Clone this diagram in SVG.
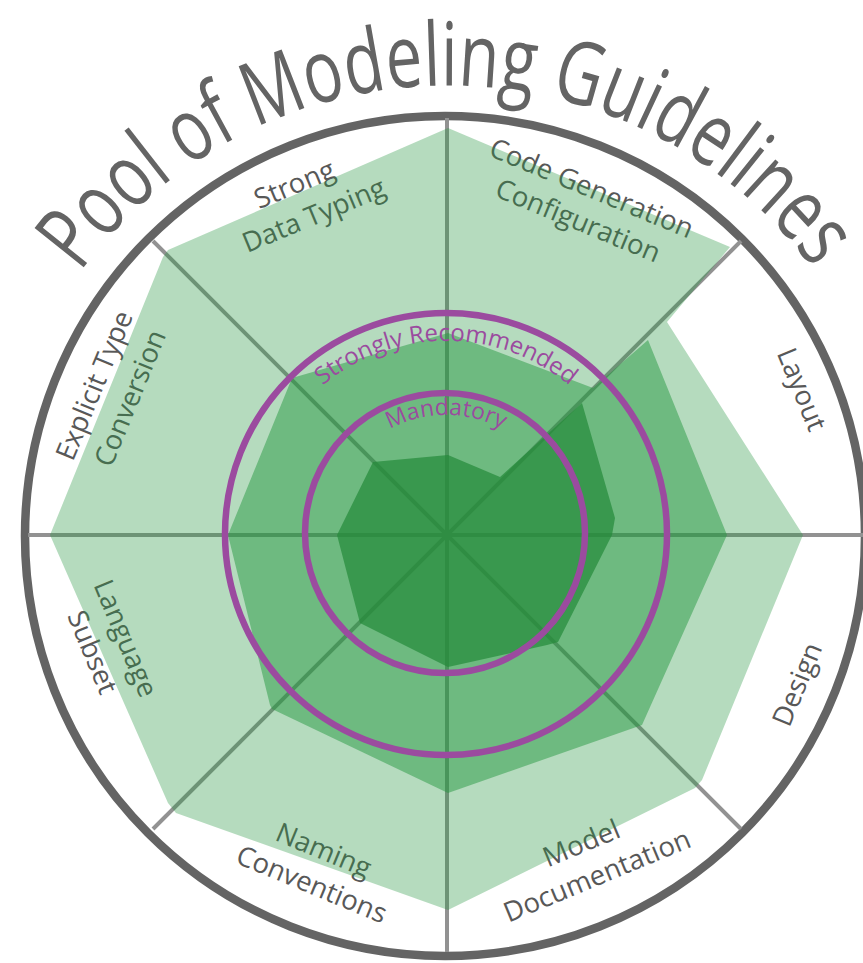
<svg xmlns="http://www.w3.org/2000/svg" width="863" height="963" viewBox="0 0 863 963">
<style>
.lbl{font-family:"Open Sans","Noto Sans","DejaVu Sans",sans-serif;font-size:27.5px;fill:#585858;text-anchor:middle}
.ttl{font-family:"Open Sans","Noto Sans","DejaVu Sans",sans-serif;font-size:88px;fill:#646464}
.pur{font-family:"Open Sans","Noto Sans","DejaVu Sans",sans-serif;font-size:24px;fill:#9b4b9f}
.spoke{stroke:#929292;stroke-width:4;fill:none}
.ring{fill:none;stroke:#646464;stroke-width:8.5}
.pring{fill:none;stroke:#9b4b9f;stroke-width:6.5}
</style>
<defs>
<path id="titleArc" d="M 2 450 A 455 455 0 0 1 893 446"/>
<path id="srArc" d="M 255.9 500.5 A 193 193 0 0 1 636.1 500.5"/>
<path id="mArc" d="M 328.8 513.3 A 119 119 0 0 1 563.2 513.3"/>
</defs>
<rect width="863" height="963" fill="#ffffff"/>
<g id="ring"><circle class="ring" cx="445" cy="536" r="420"/></g>
<g id="title"><text class="ttl"><textPath href="#titleArc" startOffset="50%" text-anchor="middle" textLength="852" lengthAdjust="spacingAndGlyphs">Pool of Modeling Guidelines</textPath></text></g>
<g id="connectors">
<line class="spoke" x1="447" y1="118" x2="447" y2="952"/>
<line class="spoke" x1="28" y1="535" x2="866" y2="535"/>
<line class="spoke" x1="153" y1="241" x2="741" y2="829"/>
<line class="spoke" x1="741" y1="241" x2="153" y2="829"/>
</g>
<g id="sector-code-generation" transform="translate(588,197) rotate(22.5)"><text class="lbl" x="0" y="0">Code Generation</text><text class="lbl" x="0" y="35">Configuration</text></g>
<g id="sector-layout" transform="translate(793,393) rotate(67.5)"><text class="lbl">Layout</text></g>
<g id="sector-design" transform="translate(806,688) rotate(-67.5)"><text class="lbl">Design</text></g>
<g id="sector-model-documentation" transform="translate(585,852) rotate(-22.5)"><text class="lbl" x="0" y="0">Model</text><text class="lbl" x="2" y="36">Documentation</text></g>
<g id="sector-naming-conventions" transform="translate(320,859) rotate(22.5)"><text class="lbl" x="0" y="0">Naming</text><text class="lbl" x="2" y="36">Conventions</text></g>
<g id="sector-language-subset" transform="translate(117,642) rotate(67.5)"><text class="lbl" x="0" y="0">Language</text><text class="lbl" x="0" y="36">Subset</text></g>
<g id="sector-explicit-type-conversion" transform="translate(103,389) rotate(-67.5)"><text class="lbl" x="0" y="0">Explicit Type</text><text class="lbl" x="2" y="38">Conversion</text></g>
<g id="sector-strong-data-typing" transform="translate(298,193) rotate(-22.5)"><text class="lbl" x="0" y="0">Strong</text><text class="lbl" x="6" y="36">Data Typing</text></g>
<g id="levels">
<polygon id="level-pool" fill="#259640" fill-opacity="0.34" points="448,128 730,247 667,322 803,535 702,780 695,788 448,910 176,813 168,803 50,535 163,257 168,250"/>
<polygon id="level-recommended" fill="#259640" fill-opacity="0.49" points="448,333 593,388 648,340 727,535 642,725 448,793 272,709 270,705 228,535 292,378"/>
<polygon id="level-mandatory" fill="#268a3a" fill-opacity="0.72" points="448,455 500,477 582,403 615,518 612,535 558,642 547,645 448,667 360,623 337,535 373,462"/>
</g>
<g id="strongly-recommended">
<circle class="pring" cx="446" cy="534" r="221"/>
<text class="pur"><textPath href="#srArc" startOffset="50%" text-anchor="middle">Strongly Recommended</textPath></text>
</g>
<g id="mandatory">
<circle class="pring" cx="445" cy="533" r="140"/>
<text class="pur" style="font-size:23px"><textPath href="#mArc" startOffset="50%" text-anchor="middle">Mandatory</textPath></text>
</g>
</svg>
